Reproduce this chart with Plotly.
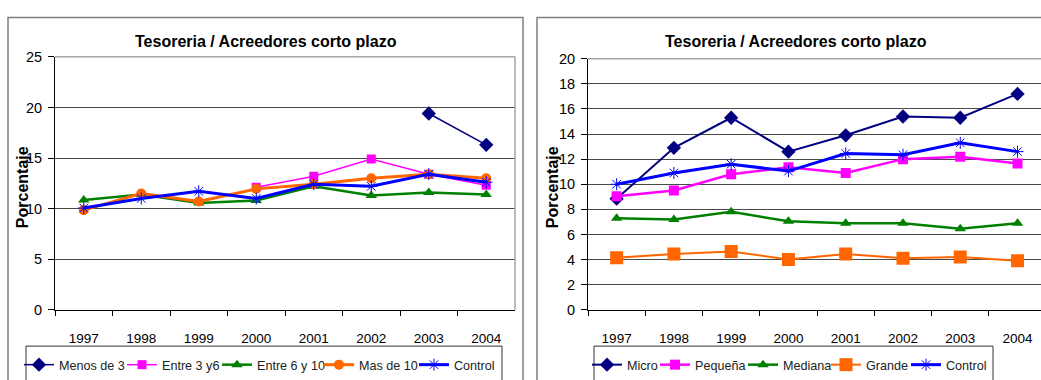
import plotly.graph_objects as go

W, H = 1041, 380

years = ["1997", "1998", "1999", "2000", "2001", "2002", "2003", "2004"]

# Left panel: by age group
menos_de_3 = [None, None, None, None, None, None, 19.4, 16.3]
entre_3_6 = [None, None, None, 12.1, 13.2, 14.9, 13.4, 12.3]
entre_6_10 = [10.85, 11.4, 10.55, 10.8, 12.2, 11.3, 11.6, 11.4]
mas_de_10 = [9.85, 11.5, 10.7, 11.95, 12.4, 13.0, 13.4, 13.0]
control_izq = [10.05, 11.0, 11.7, 11.0, 12.4, 12.2, 13.4, 12.6]

# Right panel: by company size
micro = [8.85, 12.9, 15.3, 12.6, 13.9, 15.4, 15.3, 17.2]
pequena = [9.05, 9.5, 10.8, 11.35, 10.9, 12.0, 12.2, 11.65]
mediana = [7.3, 7.2, 7.8, 7.05, 6.9, 6.9, 6.45, 6.9]
grande = [4.15, 4.45, 4.65, 4.0, 4.45, 4.1, 4.2, 3.9]
control_der = [10.0, 10.9, 11.6, 11.05, 12.45, 12.35, 13.3, 12.6]

titulo = "Tesoreria / Acreedores corto plazo"
eje_y = "Porcentaje"

FONT = "Liberation Sans, Arial, sans-serif"
NAVY, MAGENTA, GREEN, ORANGE, BLUE = "#000080", "#FF00FF", "#008000", "#FF6600", "#0000FF"


def px(x):
    return x / W


def py(y):
    return 1 - y / H


fig = go.Figure()

# Each legend entry gets its own legend box so the entries can be spaced freely
legend_slots = {}


def add(name, values, color, width, symbol, size, xa, ya, lx, mline=0):
    key = "legend" if not legend_slots else f"legend{len(legend_slots) + 1}"
    legend_slots[key] = lx
    marker = dict(symbol=symbol, size=size, color=color)
    if mline:
        marker["line"] = dict(color=color, width=mline)
    fig.add_trace(go.Scatter(
        x=years, y=values, name=name, mode="lines+markers",
        line=dict(color=color, width=width), marker=marker,
        xaxis=xa, yaxis=ya, legend=key, showlegend=True, connectgaps=False,
    ))


add("Menos de 3", menos_de_3, NAVY, 1.5, "diamond", 11, "x", "y", 19)
add("Entre 3 y6", entre_3_6, MAGENTA, 1.5, "square", 9, "x", "y", 122)
add("Entre 6 y 10", entre_6_10, GREEN, 2.5, "triangle-up", 10, "x", "y", 217)
add("Mas de 10", mas_de_10, ORANGE, 3, "circle", 10, "x", "y", 319)
add("Control", control_izq, BLUE, 3, "asterisk-open", 10, "x", "y", 414, mline=1)

add("Micro", micro, NAVY, 2, "diamond", 11, "x2", "y2", 587)
add("Pequeña", pequena, MAGENTA, 2.5, "square", 10, "x2", "y2", 655)
add("Mediana", mediana, GREEN, 2.5, "triangle-up", 10, "x2", "y2", 743)
add("Grande", grande, ORANGE, 2, "square", 13, "x2", "y2", 826)
add("Control", control_der, BLUE, 3, "asterisk-open", 10, "x2", "y2", 906, mline=1)

GRID = "#4a4a4a"
xcommon = dict(
    type="category", tickson="boundaries", ticks="outside", ticklen=5,
    tickcolor="#000", showline=True, linecolor="#000", linewidth=1,
    showgrid=False, tickfont=dict(family=FONT, size=13.5, color="#000"),
    ticklabelstandoff=16, fixedrange=True,
)
ycommon = dict(
    ticks="outside", ticklen=6, tickcolor="#000", showline=True,
    linecolor="#000", linewidth=1, showgrid=True, gridcolor=GRID,
    gridwidth=1, zeroline=False, tickfont=dict(family=FONT, size=14.5, color="#000"),
    ticklabelstandoff=3, fixedrange=True,
)

legends = {
    key: dict(
        x=px(lx), xanchor="left", y=py(357), yanchor="top", orientation="h",
        borderwidth=0, bgcolor="rgba(0,0,0,0)", itemwidth=30, visible=True,
        font=dict(family=FONT, size=12.6, color="#222"),
    )
    for key, lx in legend_slots.items()
}

fig.update_layout(
    width=W, height=H, margin=dict(l=0, r=0, t=0, b=0),
    paper_bgcolor="white", plot_bgcolor="white", showlegend=True,
    font=dict(family=FONT, color="#000"),
    xaxis=dict(domain=[px(55), px(515)], anchor="y", range=[-0.5, 7.5], **xcommon),
    yaxis=dict(domain=[py(315), py(51)], anchor="x", range=[0, 25], dtick=5, **ycommon),
    xaxis2=dict(domain=[px(588), 1.0], anchor="y2", range=[-0.5, 7.41], **xcommon),
    yaxis2=dict(domain=[py(315), py(53)], anchor="x2", range=[0, 20], dtick=2, **ycommon),
    **legends,
)

# Chart frames, legend boxes, plot-area edges
shapes = [
    dict(type="rect", xref="paper", yref="paper", x0=px(8), x1=px(523), y0=-0.2, y1=py(10),
         line=dict(color="#7f7f7f", width=1.5), layer="below"),
    dict(type="rect", xref="paper", yref="paper", x0=px(537), x1=1.2, y0=-0.2, y1=py(10),
         line=dict(color="#7f7f7f", width=1.5), layer="below"),
    dict(type="rect", xref="paper", yref="paper", x0=px(26), x1=px(502), y0=-0.2, y1=py(353),
         line=dict(color="#333", width=1), layer="below"),
    dict(type="rect", xref="paper", yref="paper", x0=px(594), x1=px(993), y0=-0.2, y1=py(353),
         line=dict(color="#333", width=1), layer="below"),
    dict(type="line", xref="paper", yref="paper", x0=px(55), x1=px(515), y0=py(51), y1=py(51),
         line=dict(color="#a6a6a6", width=1.5), layer="above"),
    dict(type="line", xref="paper", yref="paper", x0=px(515), x1=px(515), y0=py(51), y1=py(315),
         line=dict(color="#a6a6a6", width=1.5), layer="above"),
    dict(type="line", xref="paper", yref="paper", x0=px(588), x1=1.0, y0=py(53), y1=py(53),
         line=dict(color="#a6a6a6", width=1.5), layer="above"),
]
fig.update_layout(shapes=shapes)

ann = []
for cx, cy in [(266, 35), (796, 35)]:
    ann.append(dict(text=f"<b>{titulo}</b>", x=px(cx), y=py(cy), xref="paper", yref="paper",
                    xanchor="center", yanchor="middle", showarrow=False,
                    font=dict(family=FONT, size=16, color="#000")))
for cx in [22, 552]:
    ann.append(dict(text=f"<b>{eje_y}</b>", x=px(cx), y=py(187), xref="paper", yref="paper",
                    xanchor="center", yanchor="middle", showarrow=False, textangle=-90,
                    font=dict(family=FONT, size=16, color="#000")))
fig.update_layout(annotations=ann)

fig.write_html("out.html")
